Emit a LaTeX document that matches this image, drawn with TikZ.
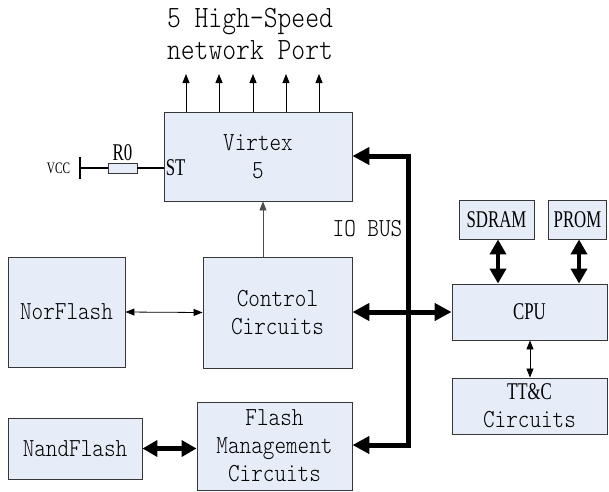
\documentclass[tikz,border=0pt]{standalone}
\usepackage{fontspec}
\usetikzlibrary{arrows.meta,calc}
\newfontfamily\monof{lmmonolt10-regular.otf}[FakeStretch=0.85]
\newfontfamily\serf{Liberation Serif}[FakeStretch=0.7]
\definecolor{boxfill}{RGB}{230,237,248}
\definecolor{boxline}{RGB}{55,55,55}
\tikzset{
  box/.style={draw=boxline, fill=boxfill, line width=0.9pt, inner sep=0pt, align=center,
    font=\monof\fontsize{26}{28}\selectfont},
  bodytxt/.style={inner sep=0pt, align=center, font=\monof\fontsize{26}{28}\selectfont},
  sertxt/.style={inner sep=0pt, font=\serf\fontsize{24}{26}\selectfont},
  thinarrow/.style={line width=0.8pt, -{Triangle[length=9pt,width=7pt]}},
  thindbl/.style={line width=0.8pt, {Triangle[length=9pt,width=7pt]}-{Triangle[length=9pt,width=7pt]}},
  busline/.style={line width=5pt, line join=miter, {Triangle[length=17pt,width=17pt]}-{Triangle[length=17pt,width=17pt]}},
  thickdbl/.style={line width=4.5pt, {Triangle[length=15pt,width=16pt]}-{Triangle[length=15pt,width=16pt]}},
  wire/.style={line width=2pt}
}
\begin{document}
\begin{tikzpicture}[x=1pt,y=-1pt]
\useasboundingbox (0,0) rectangle (609,491);
% title
\node[bodytxt, font=\monof\fontsize{31}{32}\selectfont] (title) at (250,34) {5 High-Speed\\network Port};
% boxes
\node[box, minimum width=188pt, minimum height=89pt] (virtex) at (258,156.5) {Virtex\\5};
\node[box, minimum width=149pt, minimum height=111pt] (control) at (277.5,312.5) {Control\\Circuits};
\node[box, minimum width=117pt, minimum height=110pt] (nor) at (66.5,312) {NorFlash};
\node[box, minimum width=155pt, minimum height=88pt] (fm) at (274.5,446) {Flash\\Management\\Circuits};
\node[box, minimum width=134pt, minimum height=61pt] (nand) at (75,448.5) {NandFlash};
\node[box, minimum width=155pt, minimum height=56pt, font=\serf\fontsize{24}{26}\selectfont] (cpu) at (529.5,312) {CPU};
\node[box, minimum width=155pt, minimum height=56pt] (ttc) at (529.5,406) {{\serf\fontsize{24}{26}\selectfont TT\&C}\\Circuits};
\node[box, minimum width=75pt, minimum height=39pt, font=\serf\fontsize{24}{26}\selectfont] (sdram) at (496.5,219.5) {SDRAM};
\node[box, minimum width=58pt, minimum height=39pt, font=\serf\fontsize{24}{26}\selectfont] (prom) at (577.5,219.5) {PROM};
% ports
\foreach \i/\x in {1/186,2/219,3/253,4/286,5/319}{
  \coordinate (p\i) at (\x,74);
  \draw[thinarrow] (virtex.north -| p\i) -- (p\i);
}
% VCC / R0
\coordinate (vcc) at (80,168);
\node[draw=boxline, fill=boxfill, line width=0.9pt, minimum width=29pt, minimum height=10pt, inner sep=0pt] (r0) at (122.5,168) {};
\draw[wire] (vcc) -- (r0.west);
\draw[wire] (r0.east) -- (virtex.west |- r0);
\draw[line width=2.5pt] ($(vcc)+(0,-11)$) -- ($(vcc)+(0,11)$);
\node[sertxt, font=\serf\fontsize{16}{17}\selectfont] (vcctxt) at (58.5,168) {VCC};
\node[sertxt] (r0txt) at (122.5,153) {R0};
\node[sertxt, anchor=west] (st) at ($(virtex.west |- vcc)+(2,0)$) {ST};
% control -> virtex
\draw[thinarrow, draw=black!70] (control.north -| 263,0) -- (virtex.south -| 263,0);
% norflash <-> control
\draw[thindbl] (nor.east) -- (control.west);
% nand <-> fm
\draw[thickdbl] (nand.east) -- (fm.west |- nand.east);
% IO bus
\coordinate (bustop) at (408,156);
\coordinate (busbot) at (408,445);
\draw[busline] (virtex.east |- bustop) -- (bustop) -- (busbot) -- (fm.east |- busbot);
\draw[busline] (control.east |- cpu.west) -- (cpu.west);
\node[bodytxt] (iobus) at (367.5,229) {IO BUS};
% CPU links
\draw[thickdbl] (sdram.south -| 498,0) -- (cpu.north -| 498,0);
\draw[thickdbl] (prom.south -| 579,0) -- (cpu.north -| 579,0);
\draw[thindbl] (cpu.south -| 530,0) -- (ttc.north -| 530,0);
\end{tikzpicture}
\end{document}
